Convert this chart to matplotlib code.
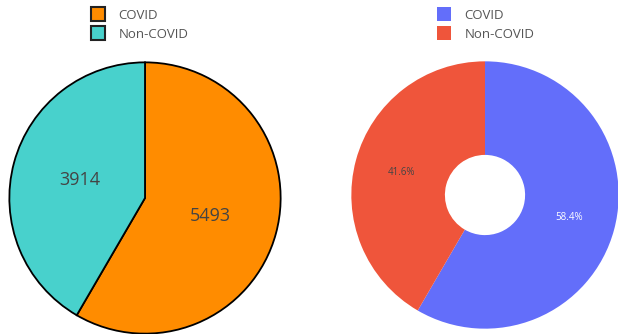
import matplotlib
matplotlib.use("Agg")
import matplotlib.pyplot as plt
from matplotlib.lines import Line2D

plt.rcParams["font.family"] = ["Open Sans", "DejaVu Sans"]

labels = ["COVID", "Non-COVID"]
counts = [5493, 3914]
left_colors = ["#FF8C00", "#48D1CC"]
right_colors = ["#636EFA", "#EF553B"]

W, H = 618, 334
fig = plt.figure(figsize=(W / 100, H / 100), dpi=100)


def _axes_at(cx, cy, r):
    # place a square axes of radius r (pixels) centred at (cx, cy), y from top
    return fig.add_axes([(cx - r) / W, (H - cy - r) / H, 2 * r / W, 2 * r / H])


def _legend(x, y, colors, edge):
    handles = [Line2D([], [], marker="s", linestyle="none", markersize=9.5,
                      markerfacecolor=c, markeredgecolor=edge,
                      markeredgewidth=1.5 if edge != "none" else 0)
               for c in colors]
    fig.legend(handles, labels, loc="upper left", bbox_to_anchor=(x / W, 1 - y / H),
               frameon=False, fontsize=9.5, labelcolor="#555555",
               handletextpad=1.1, labelspacing=0.45, borderaxespad=0,
               borderpad=0, handlelength=1.0)


# counts pie
ax1 = _axes_at(145, 198, 137)
wedges, texts = ax1.pie(counts, colors=left_colors, startangle=90, counterclock=False,
                        labels=[str(c) for c in counts], labeldistance=0.5,
                        wedgeprops=dict(edgecolor="black", linewidth=1.3))
for t in texts:
    t.set_ha("center"); t.set_va("center")
    t.set_fontsize(13); t.set_color("#444444")
ax1.set_xlim(-1.01, 1.01); ax1.set_ylim(-1.01, 1.01)
ax1.set_aspect("equal"); ax1.axis("off")

# share donut
ax2 = _axes_at(485, 195, 135)
wedges2, _, autotexts = ax2.pie(counts, colors=right_colors, startangle=90,
                                counterclock=False, autopct="%.1f%%", pctdistance=0.65,
                                wedgeprops=dict(width=0.7, linewidth=0))
autotexts[0].set_color("white")
autotexts[1].set_color("#444444")
for t in autotexts:
    t.set_fontsize(7)
ax2.set_xlim(-1.01, 1.01); ax2.set_ylim(-1.01, 1.01)
ax2.set_aspect("equal"); ax2.axis("off")

_legend(91, 9, left_colors, "#222222")
_legend(437, 9, right_colors, "none")

fig.savefig("out.png", dpi=100)
